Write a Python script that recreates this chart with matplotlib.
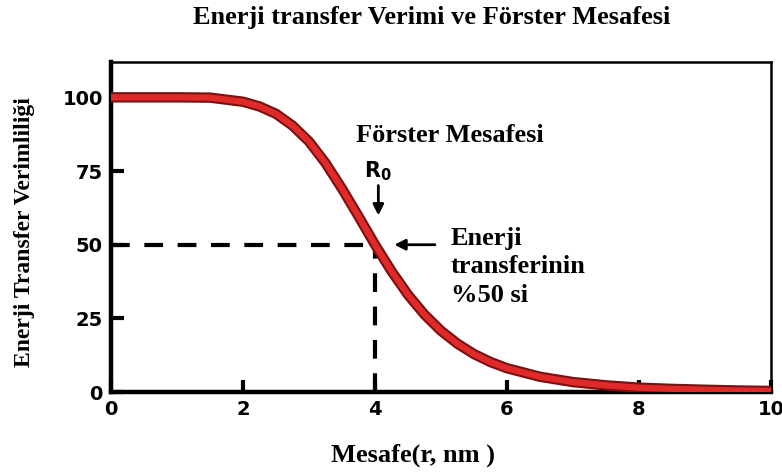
import matplotlib.pyplot as plt

# values
mesafe = [0, 0.5, 1, 1.5, 2, 2.25, 2.5, 2.75, 3, 3.25, 3.5, 3.75, 4, 4.25,
          4.5, 4.75, 5, 5.25, 5.5, 5.75, 6, 6.5, 7, 7.5, 8, 8.5, 9, 9.5, 10]
verim = [100, 100, 100, 99.9, 98.5, 96.9, 94.4, 90.4, 85, 77.7, 69, 59.6, 50, 41,
         33, 26.3, 20.8, 16.4, 12.9, 10.2, 8.1, 5.2, 3.4, 2.3, 1.5, 1.1, 0.8, 0.55, 0.4]
x_ticks = [0, 2, 4, 6, 8, 10]
y_ticks = [0, 25, 50, 75, 100]
r0 = 4
yarim = 50

serif = 'Liberation Serif'
sans = 'DejaVu Sans'

fig = plt.figure(figsize=(7.82, 4.73), dpi=100)
ax = fig.add_axes([0.142, 0.171, 0.844, 0.698])

# dark edge + red core for the curve
ax.plot(mesafe, verim, color='#7a1010', lw=7.5, solid_capstyle='butt', zorder=3)
ax.plot(mesafe, verim, color='#e02a2a', lw=4.5, solid_capstyle='butt', zorder=4)

# dashed guide lines at R0 / 50%
ax.plot([0, r0], [yarim, yarim], color='black', lw=3, ls=(0, (4.5, 3.5)), zorder=2)
ax.plot([r0, r0], [0, yarim], color='black', lw=3, ls=(0, (4.5, 3.5)), zorder=2)

ax.set_xlim(0, 10)
ax.set_ylim(0, 112)
ax.set_xticks(x_ticks)
ax.set_yticks(y_ticks)
ax.tick_params(direction='in', length=9, width=3, labelsize=14, pad=6)
for lab in ax.get_xticklabels() + ax.get_yticklabels():
    lab.set_fontfamily(sans)
    lab.set_fontweight('bold')
for s in ax.spines.values():
    s.set_linewidth(1.8)
ax.spines['left'].set_linewidth(3.2)
ax.spines['bottom'].set_linewidth(3.2)

# annotations
ax.text(5.14, 87, 'Förster Mesafesi', family=serif, fontweight='bold',
        fontsize=19, ha='center', va='center')
ax.text(4.05, 75, r'$\mathbf{R_0}$', fontsize=15, ha='center', va='center')
ax.annotate('', xy=(4.05, 59), xytext=(4.05, 71),
            arrowprops=dict(arrowstyle='-|>', color='black', lw=2, mutation_scale=16))
ax.annotate('', xy=(4.25, 50), xytext=(4.95, 50),
            arrowprops=dict(arrowstyle='-|>', color='black', lw=2, mutation_scale=16))
ax.text(5.15, 56, 'Enerji\ntransferinin\n%50 si', family=serif, fontweight='bold',
        fontsize=19, ha='left', va='top', linespacing=1.3)

fig.text(0.552, 0.962, 'Enerji transfer Verimi ve Förster Mesafesi', family=serif,
         fontweight='bold', fontsize=19, ha='center', va='center')
fig.text(0.528, 0.038, 'Mesafe(r, nm )', family=serif, fontweight='bold',
         fontsize=19, ha='center', va='center')
fig.text(0.031, 0.51, 'Enerji Transfer Verimliliği', family=serif, fontweight='bold',
         fontsize=17, ha='center', va='center', rotation=90)

fig.savefig('out.png', dpi=100)
